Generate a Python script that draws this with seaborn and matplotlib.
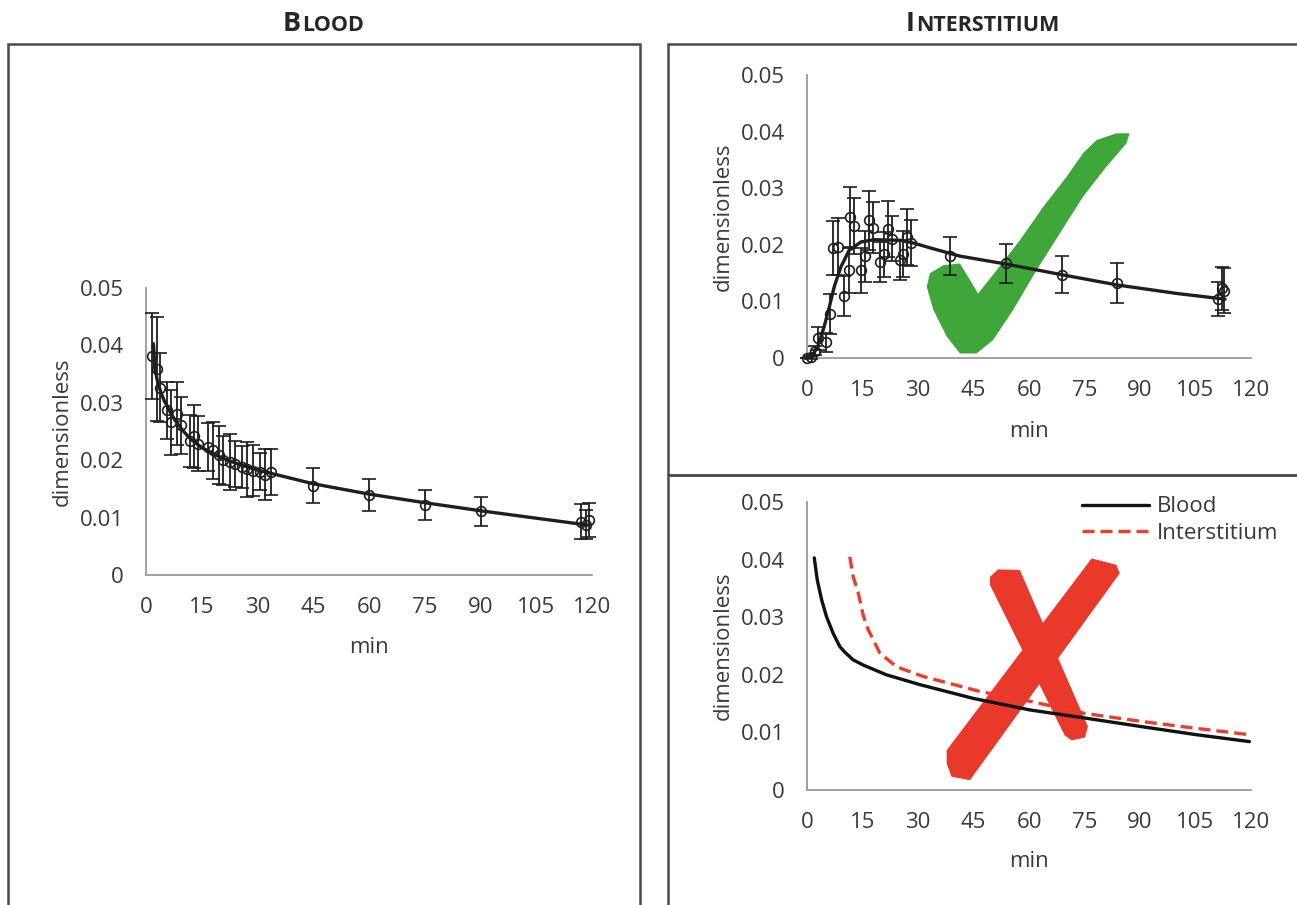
import numpy as np
import pandas as pd
import seaborn as sns
import matplotlib.pyplot as plt
from matplotlib.patches import Rectangle

# Blood: measured points (min, dimensionless, error)
blood_t = [1.5, 2.9, 3.8, 5.6, 6.7, 8.3, 9.3, 11.9, 13.0, 14.1, 16.8, 18.1, 19.5, 20.8,
           22.6, 24.0, 25.8, 27.1, 28.8, 30.7, 32.1, 33.7, 45, 60, 75, 90, 117.0, 118.3, 119.2]
blood_v = [0.0382, 0.0359, 0.0326, 0.0287, 0.0266, 0.0281, 0.0261, 0.0233, 0.0242, 0.0229,
           0.0223, 0.0217, 0.0209, 0.0200, 0.0197, 0.0194, 0.0188, 0.0184, 0.0182, 0.0180,
           0.0175, 0.0180, 0.0156, 0.0139, 0.0122, 0.0111, 0.0093, 0.0088, 0.0096]
blood_err = [0.0075, 0.0090, 0.0060, 0.0050, 0.0056, 0.0055, 0.0050, 0.0045, 0.0055, 0.0048,
             0.0042, 0.0050, 0.0050, 0.0043, 0.0048, 0.0040, 0.0036, 0.0048, 0.0045, 0.0032,
             0.0044, 0.0040, 0.0031, 0.0028, 0.0026, 0.0025, 0.0030, 0.0025, 0.0030]

# Blood: fitted curve
blood_fit_t = [2.0, 2.4, 3.0, 4.0, 5.0, 5.6, 6.0, 7.0, 8.0, 10.0, 12.0, 15.0, 20.0, 25.0,
               30.0, 35.0, 45.0, 60.0, 75.0, 90.0, 105.0, 119.0]
blood_fit_v = [0.0403, 0.0360, 0.0340, 0.0318, 0.0302, 0.0296, 0.0290, 0.0278, 0.0268, 0.0251,
               0.0237, 0.0222, 0.0205, 0.0193, 0.0183, 0.0175, 0.0159, 0.0141, 0.0126, 0.0112,
               0.0099, 0.0087]

# Interstitium: measured points
inter_t = [0, 0.9, 2.2, 2.9, 5.1, 6.2, 6.9, 8.2, 10.0, 11.2, 11.6, 12.7, 14.5, 15.6, 16.7,
           17.8, 19.8, 20.7, 21.9, 23.0, 25.0, 26.0, 27.0, 28.1, 38.6, 53.8, 69.0, 83.9,
           111.2, 112.1, 112.6]
inter_v = [0, 0.0001, 0.0013, 0.0035, 0.0028, 0.0078, 0.0194, 0.0197, 0.0110, 0.0155, 0.0250,
           0.0233, 0.0155, 0.0180, 0.0243, 0.0230, 0.0170, 0.0183, 0.0228, 0.0211, 0.0173,
           0.0184, 0.0214, 0.0203, 0.0180, 0.0167, 0.0147, 0.0133, 0.0105, 0.0123, 0.0119]
inter_err = [0, 0.0003, 0.0008, 0.0020, 0.0017, 0.0035, 0.0048, 0.0050, 0.0035, 0.0040,
             0.0053, 0.0050, 0.0040, 0.0045, 0.0052, 0.0045, 0.0035, 0.0040, 0.0050, 0.0040,
             0.0035, 0.0040, 0.0050, 0.0040, 0.0034, 0.0035, 0.0033, 0.0035, 0.0030, 0.0038,
             0.0040]

# Interstitium: fitted curve
inter_fit_t = [0, 1.1, 2.9, 4.6, 6.0, 7.3, 9.1, 11.3, 14.5, 18.0, 25.2, 28.8, 34.1, 41.3,
               53.8, 69.0, 83.9, 100.0, 113.0]
inter_fit_v = [0, 0.0001, 0.0021, 0.0056, 0.0091, 0.0126, 0.0161, 0.0190, 0.0205, 0.0209,
               0.0208, 0.0203, 0.0193, 0.0180, 0.0166, 0.0147, 0.0129, 0.0114, 0.0104]

# Simulation (bottom right)
sim_blood_t = [1.9, 2.7, 3.9, 5.2, 7.0, 8.8, 10.2, 12.4, 15.1, 21.4, 30.4, 44.9, 60.2, 75.0,
               90.4, 105.2, 119.6]
sim_blood_v = [0.0403, 0.0365, 0.0330, 0.0301, 0.0272, 0.0249, 0.0239, 0.0226, 0.0217, 0.0200,
               0.0183, 0.0159, 0.0139, 0.0125, 0.0110, 0.0096, 0.0084]
sim_inter_t = [11.5, 12.4, 13.8, 15.1, 16.5, 19.6, 24.1, 31.4, 46.7, 60.2, 75.0, 90.4, 105.2,
               119.6]
sim_inter_v = [0.0405, 0.0371, 0.0342, 0.0304, 0.0278, 0.0238, 0.0214, 0.0197, 0.0171, 0.0154,
               0.0133, 0.0119, 0.0107, 0.0096]

# marker shapes (outline, in data units of their panel)
check_x = [87.2, 83.6, 78.2, 74.6, 70.1, 63.8, 57.5, 51.2, 46.2, 44.0, 41.3, 36.8, 33.2, 32.3,
           34.1, 37.7, 41.3, 45.8, 50.3, 55.7, 62.0, 68.3, 74.6, 80.9, 86.3]
check_y = [0.0397, 0.0397, 0.0385, 0.0362, 0.0320, 0.0267, 0.0208, 0.0155, 0.0114, 0.0138,
           0.0167, 0.0164, 0.0150, 0.0126, 0.0085, 0.0038, 0.0008, 0.0008, 0.0032, 0.0085,
           0.0155, 0.0220, 0.0285, 0.0338, 0.0379]
cross_a_x = [37.7, 76.9, 83.6, 84.5, 44.0, 39.0, 37.7]
cross_a_y = [0.0069, 0.0402, 0.0391, 0.0376, 0.0017, 0.0023, 0.0046]
cross_b_x = [49.4, 51.6, 57.5, 75.9, 75.1, 71.5, 69.6, 49.4]
cross_b_y = [0.0370, 0.0383, 0.0382, 0.0110, 0.0091, 0.0086, 0.0095, 0.0356]

x_ticks = list(range(0, 121, 15))
y_ticks = [0, 0.01, 0.02, 0.03, 0.04, 0.05]
y_tick_labels = ["0", "0.01", "0.02", "0.03", "0.04", "0.05"]

sns.set_style("white")
plt.rcParams['font.family'] = ['Open Sans', 'DejaVu Sans']

fig = plt.figure(figsize=(12.97, 9.05), dpi=100)

ax_b = fig.add_axes([0.1126, 0.3646, 0.3439, 0.3171])
ax_i = fig.add_axes([0.6224, 0.6044, 0.3421, 0.3127])
ax_s = fig.add_axes([0.6224, 0.1271, 0.3421, 0.3182])

axis_grey = "#9a9a9a"
ink = "#1e1e1e"


def style_axes(ax, ylab_x, xlab_y):
    ax.set_xlim(0, 120)
    ax.set_ylim(0, 0.05)
    ax.set_xticks(x_ticks)
    ax.set_yticks(y_ticks)
    ax.set_yticklabels(y_tick_labels)
    for s in ["top", "right"]:
        ax.spines[s].set_visible(False)
    for s in ["left", "bottom"]:
        ax.spines[s].set_color(axis_grey)
        ax.spines[s].set_linewidth(1.3)
    ax.tick_params(axis="both", direction="out", length=6, width=1.3, color=axis_grey,
                   labelsize=16, labelcolor="#3a3a3a")
    ax.tick_params(axis="y", pad=10)
    ax.tick_params(axis="x", pad=10)
    ax.set_xlabel("min", fontsize=16, color="#3a3a3a")
    ax.set_ylabel("dimensionless", fontsize=16, color="#3a3a3a")
    ax.xaxis.set_label_coords(0.5, xlab_y)
    ax.xaxis.label.set_verticalalignment("center")
    ax.yaxis.set_label_coords(ylab_x, 0.5)
    ax.yaxis.label.set_verticalalignment("center")
    ax.patch.set_alpha(0)


def data_panel(ax, t, v, err, ft, fv):
    sns.lineplot(x=ft, y=fv, ax=ax, color=ink, linewidth=2.4, legend=False, zorder=3)
    ax.errorbar(t, v, yerr=err, fmt="o", ms=7, mfc="none", mec=ink, mew=1.2,
                ecolor=ink, elinewidth=1.3, capsize=5, capthick=1.3, zorder=4, clip_on=False)


# Blood panel
data_panel(ax_b, blood_t, blood_v, blood_err, blood_fit_t, blood_fit_v)
style_axes(ax_b, -0.188, -0.254)

# Interstitium panel
ax_i.fill(check_x, check_y, color="#3fa63a", lw=0, zorder=1)
data_panel(ax_i, inter_t, inter_v, inter_err, inter_fit_t, inter_fit_v)
style_axes(ax_i, -0.19, -0.261)

# Simulated curves
ax_s.fill(cross_a_x, cross_a_y, color="#e8392b", lw=0, zorder=1)
ax_s.fill(cross_b_x, cross_b_y, color="#e8392b", lw=0, zorder=1)
sns.lineplot(x=sim_blood_t, y=sim_blood_v, ax=ax_s, color="#111111", linewidth=2.4,
             label="Blood", zorder=3)
sns.lineplot(x=sim_inter_t, y=sim_inter_v, ax=ax_s, color="#ee3b2d", linewidth=2.4,
             linestyle=(0, (3.6, 1.8)), label="Interstitium", zorder=3)
style_axes(ax_s, -0.19, -0.25)
leg = ax_s.legend(loc="upper left", bbox_to_anchor=(0.595, 1.058), frameon=False, fontsize=16,
                  handlelength=3.0, handletextpad=0.35, labelspacing=0.25, borderpad=0)
for txt in leg.get_texts():
    txt.set_color("#3a3a3a")

# panel frames
frame_kw = dict(fill=False, edgecolor="#4a4a4a", linewidth=1.8, transform=fig.transFigure,
                clip_on=False)
fig.add_artist(Rectangle((0.0062, -0.02), 0.4872, 0.9714, **frame_kw))
fig.add_artist(Rectangle((0.515, 0.4751), 0.5, 0.4763, **frame_kw))
fig.add_artist(Rectangle((0.515, -0.02), 0.5, 0.4951, **frame_kw))

# small-caps titles
for x0, first, rest in [(0.2180, "B", "LOOD"), (0.6985, "I", "NTERSTITIUM")]:
    t1 = fig.text(x0, 0.9657, first, fontsize=19.5, fontweight="bold", color="#262626",
                  ha="left", va="baseline")
    plt.annotate(rest, xy=(1, 0), xycoords=t1, xytext=(0.6, 1.0), textcoords="offset points",
                 fontsize=15.5, fontweight="bold", color="#262626", ha="left", va="bottom",
                 annotation_clip=False)

fig.savefig("out.png", dpi=100)
